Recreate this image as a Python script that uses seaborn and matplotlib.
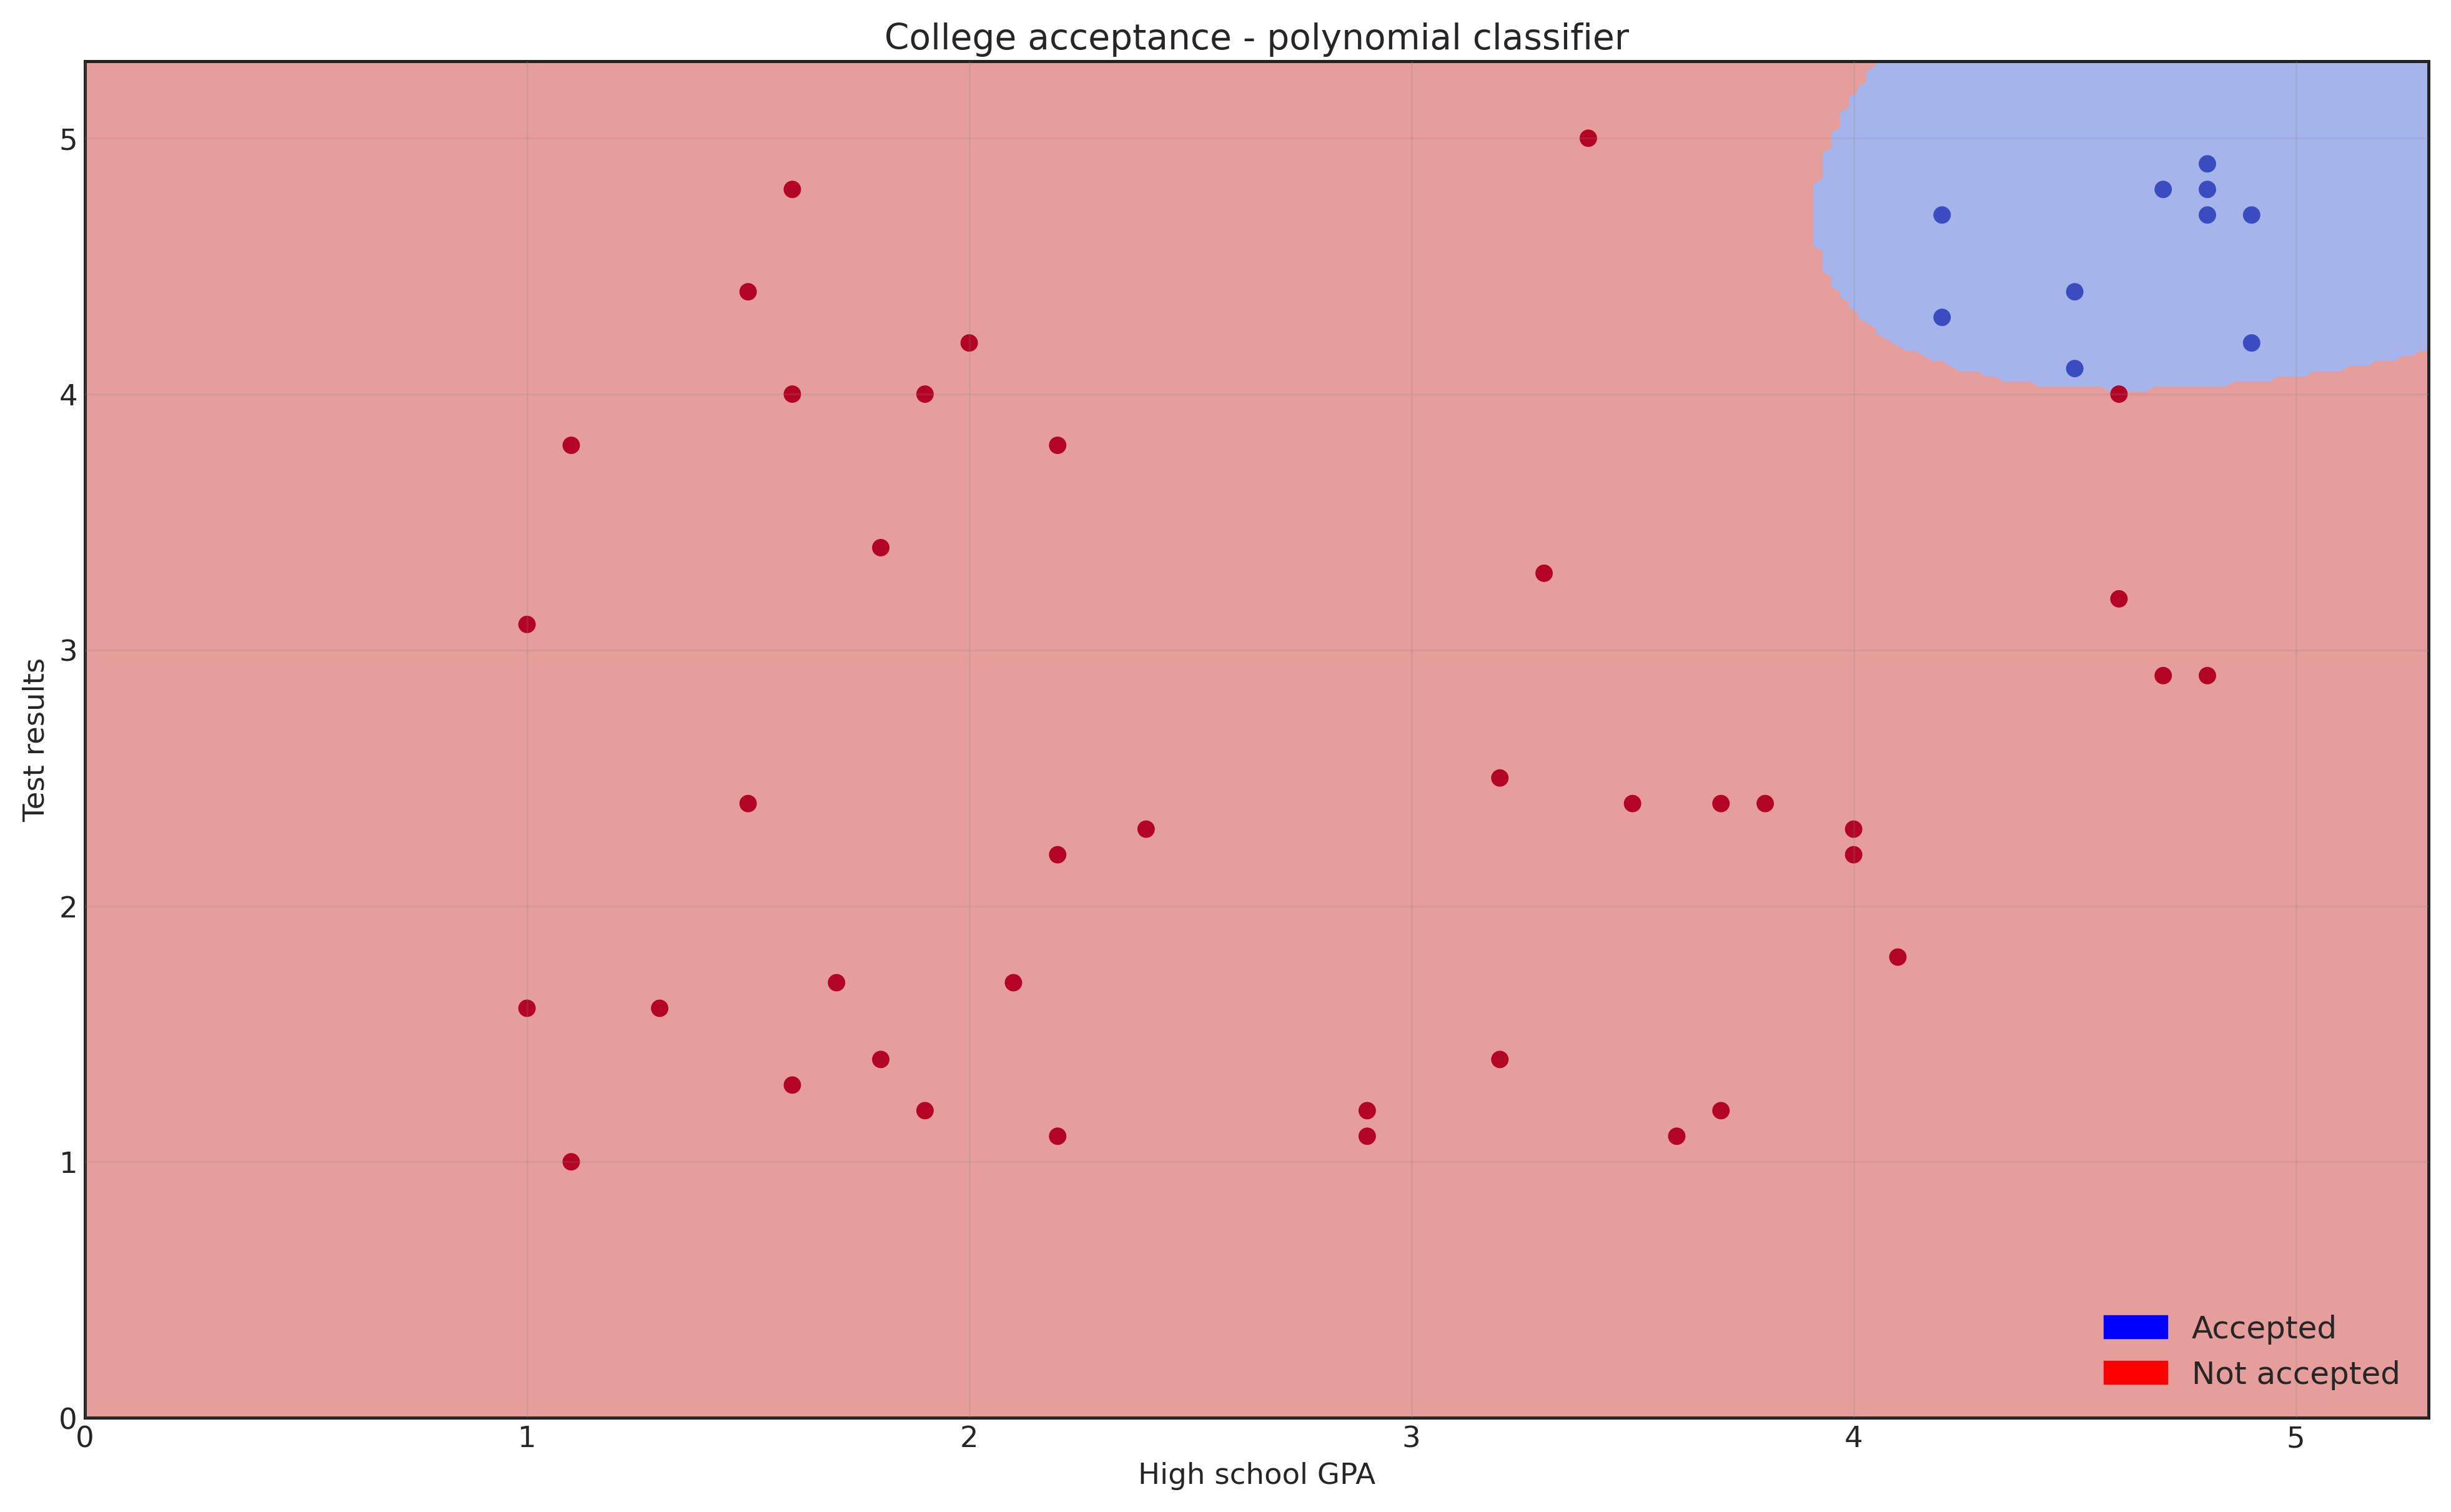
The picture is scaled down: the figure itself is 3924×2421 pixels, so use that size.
import numpy as np
import pandas as pd
import seaborn as sns
import matplotlib.pyplot as plt
from matplotlib.patches import Patch

# data
gpa_rejected = [3.4, 1.6, 1.5, 2.0, 1.6, 1.9, 1.1, 2.2, 1.8, 3.3, 1.0, 4.6, 4.7, 4.8, 3.2, 1.5, 3.5, 3.7, 3.8,
                2.4, 4.0, 2.2, 4.0, 4.1, 1.0, 1.3, 1.7, 2.1, 1.8, 3.2, 1.6, 1.9, 2.9, 3.7, 2.2, 2.9, 3.6, 1.1, 4.6]
test_rejected = [5.0, 4.8, 4.4, 4.2, 4.0, 4.0, 3.8, 3.8, 3.4, 3.3, 3.1, 3.2, 2.9, 2.9, 2.5, 2.4, 2.4, 2.4, 2.4,
                 2.3, 2.3, 2.2, 2.2, 1.8, 1.6, 1.6, 1.7, 1.7, 1.4, 1.4, 1.3, 1.2, 1.2, 1.2, 1.1, 1.1, 1.1, 1.0, 4.0]
gpa_accepted = [4.2, 4.2, 4.5, 4.5, 4.7, 4.8, 4.8, 4.8, 4.9, 4.9]
test_accepted = [4.7, 4.3, 4.4, 4.1, 4.8, 4.9, 4.8, 4.7, 4.7, 4.2]

# decision boundary points
boundary_gpa = [4.05, 3.95, 3.93, 3.93, 3.97, 4.05, 4.3, 4.6, 5.0, 5.3]
boundary_test = [5.3, 5.0, 4.75, 4.5, 4.35, 4.25, 4.08, 4.02, 4.07, 4.17]

df = pd.DataFrame({
    'gpa': gpa_rejected + gpa_accepted,
    'test': test_rejected + test_accepted,
    'accepted': [0] * len(gpa_rejected) + [1] * len(gpa_accepted),
})


def conic(x, y):
    return np.column_stack([x * x, x * y, y * y, x, y])


# polynomial (degree 2) boundary fitted through the read points
bx, by = np.array(boundary_gpa), np.array(boundary_test)
coef, *_ = np.linalg.lstsq(conic(bx, by), np.ones_like(bx), rcond=None)

xx, yy = np.meshgrid(np.arange(0, 5.31, 0.02), np.arange(0, 5.31, 0.02))
g = (conic(xx.ravel(), yy.ravel()) @ coef - 1).reshape(xx.shape)
g_in = conic(np.array([4.8]), np.array([4.8])) @ coef - 1
zz = (np.sign(g) == np.sign(g_in)).astype(int)
zz[xx < 3.9] = 0
zz[yy < 3.95] = 0

plt.rcParams['font.family'] = 'Liberation Sans'
sns.set_style('white')
fig, ax = plt.subplots(figsize=(16.35, 10.09), dpi=240)
ax.contourf(xx, yy, zz, levels=[-0.5, 0.5, 1.5], colors=['#E59E9B', '#A5B4EA'])
sns.scatterplot(data=df, x='gpa', y='test', hue='accepted', palette={0: '#B40426', 1: '#3B4CC0'},
                s=70, edgecolor='none', legend=False, ax=ax)
ax.set_xlim(0, 5.3)
ax.set_ylim(0, 5.3)
ax.set_axisbelow(False)
ax.grid(True, color='#888888', alpha=0.2, linewidth=0.8)
for s in ax.spines.values():
    s.set_color('#222222')
    s.set_linewidth(1.5)
ax.tick_params(labelsize=14, length=0)
ax.set_title('College acceptance - polynomial classifier', fontsize=17)
ax.set_xlabel('High school GPA', fontsize=14)
ax.set_ylabel('Test results', fontsize=14)
ax.legend(handles=[Patch(color='blue', label='Accepted'), Patch(color='red', label='Not accepted')],
          loc='lower right', frameon=False, fontsize=15)
plt.tight_layout()
plt.savefig('out.png')
